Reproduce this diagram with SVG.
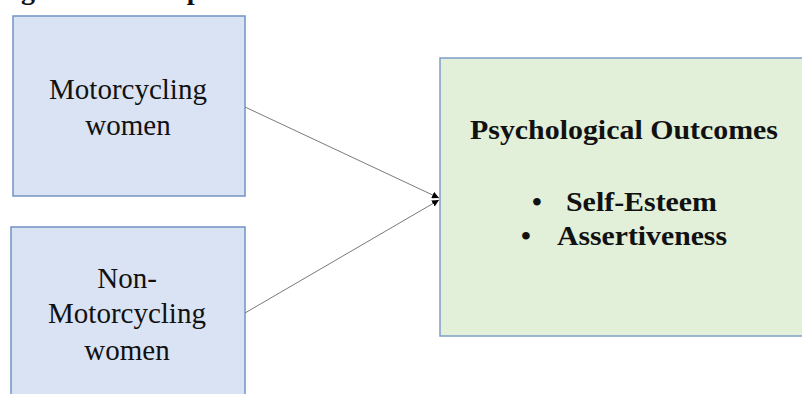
<svg xmlns="http://www.w3.org/2000/svg" width="802" height="394" viewBox="0 0 802 394">
<style>
.box{fill:#dae3f3;stroke:#7094c3;stroke-width:1.5}
.gbox{fill:#e2efd9;stroke:#7f9fc7;stroke-width:1.5}
.t{font-family:"Liberation Serif","Times New Roman",serif;font-size:29px;fill:#111;text-anchor:middle}
.b{font-family:"Liberation Serif","Times New Roman",serif;font-size:28px;font-weight:bold;fill:#111}
.conn{stroke:#7a7a7a;stroke-width:1;fill:none}
</style>
<defs>
<marker id="ah" viewBox="0 0 10 10" refX="10" refY="5" markerWidth="7" markerHeight="7" markerUnits="userSpaceOnUse" orient="auto">
<path d="M0,0 L10,5 L0,10 z" fill="#000"/>
</marker>
</defs>
<rect width="802" height="394" fill="#fff"/>
<text class="b" x="-4" y="-1" font-size="29">Figure 1: Conceptual Framework</text>
<g id="motorcycling">
<rect class="box" x="13" y="16" width="232" height="180"/>
<text class="t" x="128" y="99">Motorcycling</text>
<text class="t" x="128" y="135">women</text>
</g>
<g id="non-motorcycling">
<rect class="box" x="11" y="227" width="234" height="180"/>
<text class="t" x="127" y="288">Non-</text>
<text class="t" x="127" y="323">Motorcycling</text>
<text class="t" x="127" y="360">women</text>
</g>
<g id="outcomes">
<rect class="gbox" x="440" y="58" width="380" height="278"/>
<text class="b" x="470" y="139" textLength="308" lengthAdjust="spacingAndGlyphs">Psychological Outcomes</text>
<text class="b" x="532" y="211">•</text>
<text class="b" x="566" y="211" textLength="151" lengthAdjust="spacingAndGlyphs">Self-Esteem</text>
<text class="b" x="521" y="245">•</text>
<text class="b" x="557" y="245" textLength="170" lengthAdjust="spacingAndGlyphs">Assertiveness</text>
</g>
<g id="connectors">
<line class="conn" x1="245" y1="107" x2="439" y2="198" marker-end="url(#ah)"/>
<line class="conn" x1="245" y1="313" x2="439" y2="200" marker-end="url(#ah)"/>
</g>
</svg>
